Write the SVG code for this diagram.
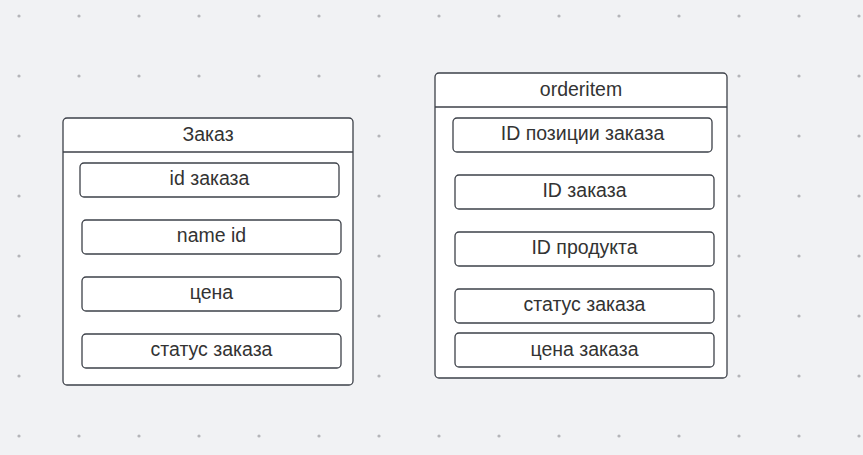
<svg xmlns="http://www.w3.org/2000/svg" width="863" height="455" viewBox="0 0 863 455">
<defs>
<pattern id="dots" x="0" y="0" width="60" height="60" patternUnits="userSpaceOnUse">
<circle cx="19" cy="16" r="1.6" fill="#b4b5b9"/>
</pattern>
<style>
.box{fill:#ffffff;stroke:#3d4149;stroke-width:1.3}
.hdr{fill:none;stroke:#3d4149;stroke-width:1.3}
.t{font-family:"Liberation Sans",Arial,sans-serif;font-size:19.5px;fill:#333333;text-anchor:middle}
</style>
</defs>
<rect width="863" height="455" fill="#f1f2f4"/>
<rect width="863" height="455" fill="url(#dots)"/>
<g id="connectors"></g>
<g id="zakaz">
<rect class="box" x="63" y="118" width="290" height="267" rx="4"/>
<line class="hdr" x1="63" y1="152" x2="353" y2="152"/>
<text class="t" x="208" y="140.5">Заказ</text>
</g>
<g id="zakaz-id"><rect class="box" x="80" y="163" width="259" height="34" rx="4"/><text class="t" x="209.5" y="185">id заказа</text></g>
<g id="zakaz-name"><rect class="box" x="82" y="220" width="259" height="34" rx="4"/><text class="t" x="211.5" y="242">name id</text></g>
<g id="zakaz-price"><rect class="box" x="82" y="277" width="259" height="34" rx="4"/><text class="t" x="211.5" y="299">цена</text></g>
<g id="zakaz-status"><rect class="box" x="82" y="334" width="259" height="34" rx="4"/><text class="t" x="211.5" y="356">статус заказа</text></g>
<g id="orderitem">
<rect class="box" x="435" y="73" width="292" height="305" rx="4"/>
<line class="hdr" x1="435" y1="107" x2="727" y2="107"/>
<text class="t" x="581" y="95.5">orderitem</text>
</g>
<g id="oi-pos"><rect class="box" x="453" y="118" width="259" height="34" rx="4"/><text class="t" x="582.5" y="140">ID позиции заказа</text></g>
<g id="oi-order"><rect class="box" x="455" y="175" width="259" height="34" rx="4"/><text class="t" x="584.5" y="197">ID заказа</text></g>
<g id="oi-product"><rect class="box" x="455" y="232" width="259" height="34" rx="4"/><text class="t" x="584.5" y="254">ID продукта</text></g>
<g id="oi-status"><rect class="box" x="455" y="289" width="259" height="34" rx="4"/><text class="t" x="584.5" y="311">статус заказа</text></g>
<g id="oi-price"><rect class="box" x="455" y="333" width="259" height="34" rx="4"/><text class="t" x="584.5" y="355.5">цена заказа</text></g>
</svg>
